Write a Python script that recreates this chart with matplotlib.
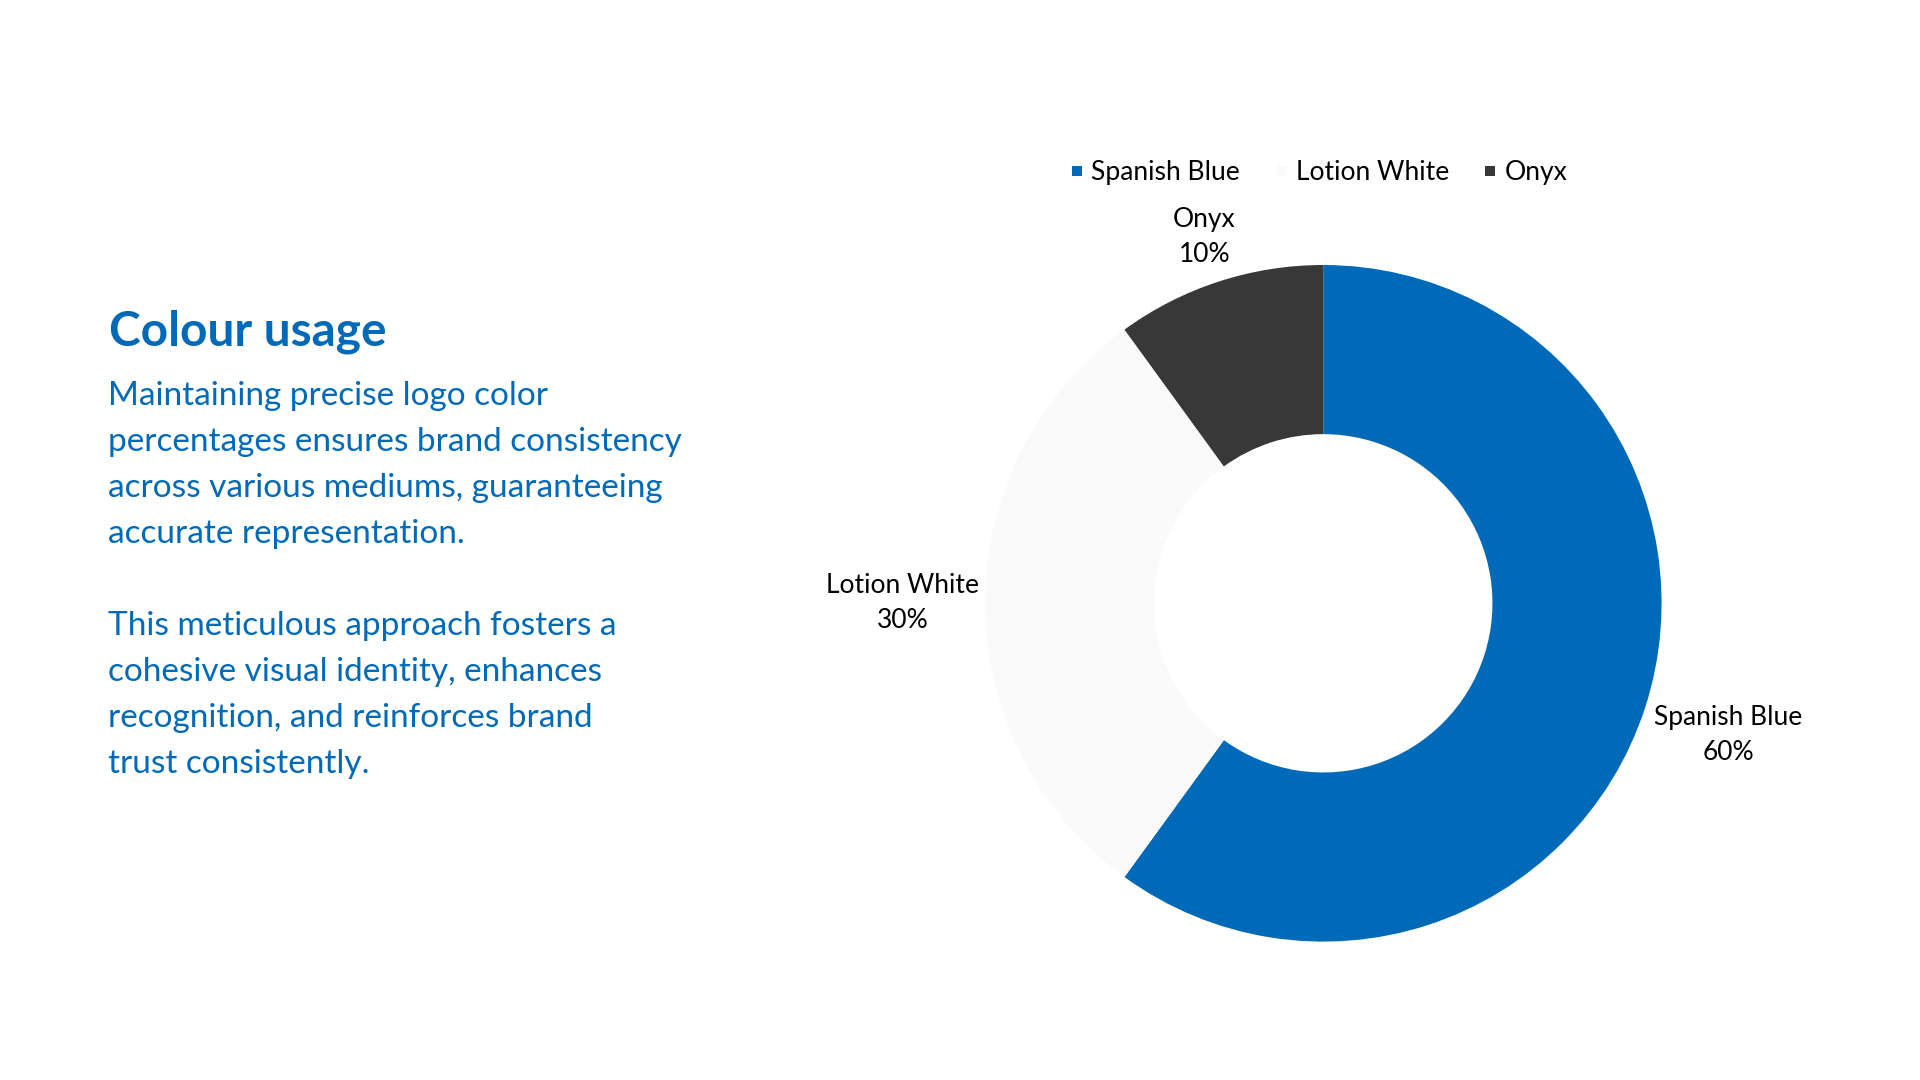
import numpy as np
import matplotlib
matplotlib.use("Agg")
import matplotlib.pyplot as plt
from matplotlib.lines import Line2D

plt.rcParams['font.family'] = ['Lato', 'DejaVu Sans']

# ---- data ----
categories = ["Spanish Blue", "Lotion White", "Onyx"]
shares = [60, 30, 10]
colors = ["#006AB8", "#FAFAFA", "#383838"]
title = "Colour usage"
body_lines = [
    "Maintaining precise logo color",
    "percentages ensures brand consistency",
    "across various mediums, guaranteeing",
    "accurate representation.",
    "",
    "This meticulous approach fosters a",
    "cohesive visual identity, enhances",
    "recognition, and reinforces brand",
    "trust consistently.",
]

W, H = 1920, 1080
fig = plt.figure(figsize=(W / 100, H / 100), dpi=100)
fig.patch.set_facecolor("white")

BLUE = "#006AB8"

# ---- left text ----
fig.text(109 / W, 1 - 345 / H, title, fontsize=34.4, fontweight="bold",
         color=BLUE, va="baseline", ha="left")
y0 = 405
step = 46
for i, line in enumerate(body_lines):
    if line:
        fig.text(108.5 / W, 1 - (y0 + i * step) / H, line, fontsize=24.0,
                 color=BLUE, va="baseline", ha="left")

# ---- donut ----
cx, cy, R = 1323.3, 603.3, 338.3
ax = fig.add_axes([(cx - R) / W, (H - cy - R) / H, 2 * R / W, 2 * R / H])
wedges, _ = ax.pie(shares, colors=colors, startangle=90, counterclock=False,
                   radius=1.0, wedgeprops=dict(width=0.5, linewidth=0))
ax.set_xlim(-1, 1)
ax.set_ylim(-1, 1)
ax.set_aspect("equal")
ax.axis("off")

label_dist = [1.258, 1.244, 1.137]
for w, name, val, d in zip(wedges, categories, shares, label_dist):
    mid = np.deg2rad((w.theta1 + w.theta2) / 2)
    ax.text(d * np.cos(mid), d * np.sin(mid), f"{name}\n{val}%",
            ha="center", va="center", multialignment="center",
            fontsize=19.0, color="black", linespacing=1.5, clip_on=False)

# ---- legend ----
handles = [Line2D([0], [0], marker="s", linestyle="none", markersize=6.5,
                  markerfacecolor=c, markeredgewidth=0) for c in colors]
fig.legend(handles, categories, loc="center left",
           bbox_to_anchor=(1072 / W, 1 - 172.5 / H), ncol=3, frameon=False,
           fontsize=19.1, handlelength=0.385, handletextpad=0.347,
           columnspacing=1.358, borderpad=0, borderaxespad=0)

fig.savefig("out.png", dpi=100, facecolor="white")
